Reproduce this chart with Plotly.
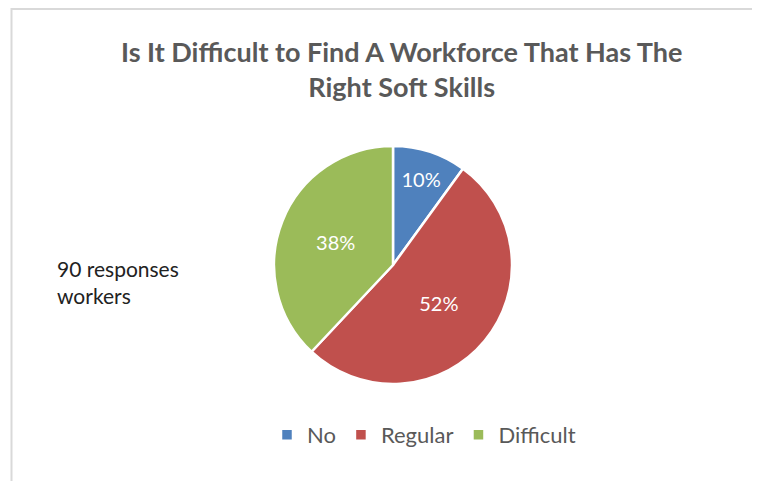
import plotly.graph_objects as go

categories = ["No", "Regular", "Difficult"]
values = [10, 52, 38]
colors = ["#4F81BD", "#C0504D", "#9BBB59"]
title_lines = ["Is It Difficult to Find A Workforce That Has The", "Right Soft Skills"]
note_lines = ["90 responses", "workers"]

W, H = 760, 481
# page body adds an 8px offset; positions below are in figure pixels
cx, cy, r = 385, 257, 119

fig = go.Figure(go.Pie(
    labels=categories,
    values=values,
    sort=False,
    direction="clockwise",
    rotation=0,
    marker=dict(colors=colors, line=dict(color="white", width=2.5)),
    texttemplate="%{percent:.0%}",
    textposition="inside",
    insidetextorientation="horizontal",
    textfont=dict(color="white", size=20, family="Lato"),
    domain=dict(x=[(cx - r) / W, (cx + r) / W],
                y=[(H - cy - r) / H, (H - cy + r) / H]),
    hole=0,
))

fig.update_layout(
    width=W, height=H,
    margin=dict(l=0, r=0, t=0, b=0),
    paper_bgcolor="white",
    plot_bgcolor="white",
    showlegend=True,
    legend=dict(orientation="h", x=416 / W, xanchor="center", y=(H - 427) / H, yanchor="middle",
                font=dict(size=22, color="#595959", family="Lato"),
                itemwidth=30, bgcolor="rgba(0,0,0,0)"),
    annotations=[
        dict(text="<b>" + "<br>".join(title_lines) + "</b>", x=393 / W, y=1 - 61 / H,
             xref="paper", yref="paper", showarrow=False, xanchor="center", yanchor="middle",
             font=dict(size=27, color="#595959", family="Lato"), align="center"),
        dict(text="<br>".join(note_lines), x=47 / W, y=1 - 274 / H,
             xref="paper", yref="paper", showarrow=False, xanchor="left", yanchor="middle",
             font=dict(size=21, color="#222222", family="Lato"), align="left"),
    ],
    shapes=[
        dict(type="rect", xref="paper", yref="paper", x0=3.5 / W, x1=1.05,
             y0=-0.05, y1=1 - 1 / H, line=dict(color="#d9d9d9", width=2), layer="below"),
    ],
)

fig.write_html("out.html")
